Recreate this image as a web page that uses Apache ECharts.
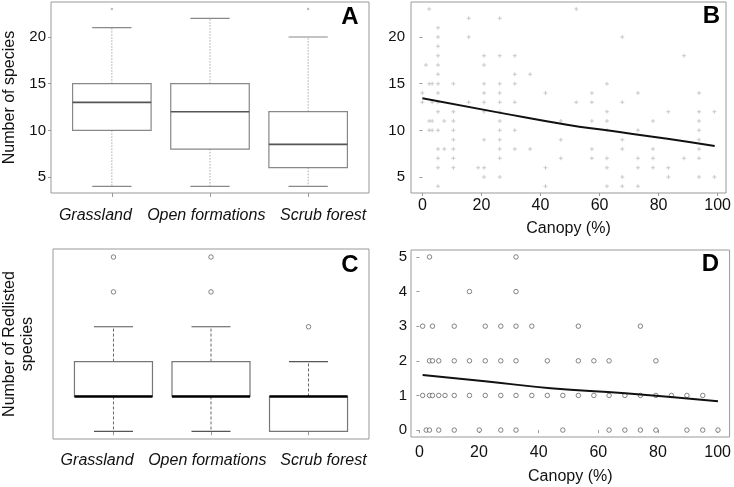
<!DOCTYPE html>
<html>
<head>
<meta charset="utf-8">
<script src="https://cdn.jsdelivr.net/npm/echarts@6/dist/echarts.min.js"></script>
<style>html,body{margin:0;padding:0;background:#fff}#c{width:734px;height:487px}</style>
</head>
<body>
<div id="c"></div>
<script>
// ---------- data ----------
const habitats = ['Grassland', 'Open formations', 'Scrub forest'];
const habitatPos = [1, 2, 3];
// Panel A: number of species (boxplot stats)
const spMin = [4, 4, 4];
const spQ1 = [10, 8, 6];
const spMed = [13, 12, 8.5];
const spQ3 = [15, 15, 12];
const spMax = [21, 22, 20];
const spOutliers = [[1, 23], [3, 23]];
// Panel C: number of redlisted species (boxplot stats)
const rlMin = [0, 0, 0];
const rlQ1 = [1, 1, 0];
const rlMed = [1, 1, 1];
const rlQ3 = [2, 2, 1];
const rlMax = [3, 3, 2];
const rlOutliers = [[1, 4], [1, 5], [2, 4], [2, 5], [3, 3]];
// Panel B: canopy (%) vs number of species
const pointsB = [
  [2.3,23],[52.1,23],
  [15.7,22],[26.2,22],
  [5.3,21],
  [5.3,20],[15.7,20],[67.7,20],
  [5.3,19],
  [5.3,18],[20.9,18],[26.2,18],[31.3,18],[88.6,18],
  [1.2,17],[5.3,17],[20.9,17],
  [5.3,16],[31.3,16],[36.5,16],
  [2.3,15],[3.3,15],[5.3,15],[10.5,15],[20.9,15],[26.2,15],[31.3,15],[62.5,15],
  [0,14],[5.3,14],[20.9,14],[26.2,14],[41.7,14],[57.4,14],[73,14],[93.7,14],
  [0,13],[3.3,13],[5.3,13],[15.7,13],[20.9,13],[26.2,13],[31.3,13],[52.1,13],[57.4,13],[67.7,13],
  [5.3,12],[10.5,12],[20.9,12],[26.2,12],[62.5,12],[83.3,12],[93.7,12],[98.9,12],
  [2.3,11],[3.3,11],[7.4,11],[10.5,11],[26.2,11],[46.9,11],[57.4,11],[62.5,11],[78.1,11],[93.7,11],
  [2.3,10],[3.3,10],[5.3,10],[10.5,10],[26.2,10],[31.3,10],[62.5,10],[73,10],[93.7,10],
  [10.5,9],[20.9,9],[26.2,9],[46.9,9],[67.7,9],[93.7,9],
  [5.3,8],[7.4,8],[10.5,8],[26.2,8],[31.3,8],[36.5,8],[57.4,8],[67.7,8],[78.1,8],[93.7,8],
  [5.3,7],[10.5,7],[26.2,7],[46.9,7],[57.4,7],[62.5,7],[73,7],[78.1,7],[88.6,7],[93.7,7],
  [5.3,6],[10.5,6],[18.9,6],[20.9,6],[41.7,6],[62.5,6],[73,6],[78.1,6],[83.3,6],
  [20.9,5],[26.2,5],[67.7,5],[83.3,5],[93.7,5],[98.9,5],
  [5.3,4],[41.7,4],[62.5,4],[67.7,4],[73,4]
];
const fitB = [[0,13.43],[26,11.9],[49,10.6],[62.5,10.0],[83,9.1],[99,8.32]];
// Panel D: canopy (%) vs number of redlisted species
const pointsD = [
  [3.4,5],[32.4,5],
  [16.8,4],[32.4,4],
  [1.1,3],[4.4,3],[11.7,3],[22.1,3],[27.3,3],[32.4,3],[37.7,3],[53.3,3],[74.1,3],
  [3.4,2],[4.4,2],[6.5,2],[11.7,2],[16.8,2],[22.1,2],[27.3,2],[32.4,2],[42.9,2],[53.3,2],[58.5,2],[63.6,2],[79.3,2],
  [1.1,1],[3.4,1],[4.4,1],[6.5,1],[8.6,1],[11.7,1],[16.8,1],[22.1,1],[27.3,1],[32.4,1],[37.7,1],[42.9,1],[48.1,1],[53.3,1],[58.5,1],[63.6,1],[68.9,1],[74.1,1],[79.3,1],[84.5,1],[89.7,1],[95,1],
  [2.3,0],[3.4,0],[6.5,0],[11.7,0],[20.1,0],[27.3,0],[32.4,0],[48.1,0],[63.6,0],[68.9,0],[74.1,0],[79.3,0],[89.7,0],[95,0],[100.1,0]
];
const fitD = [[1.1,1.59],[22,1.41],[44,1.21],[69,1.06],[100.1,0.83]];
const canopyTicks = [0, 20, 40, 60, 80, 100];
const speciesTicks = [5, 10, 15, 20];
const redTicks = [0, 1, 2, 3, 4, 5];
// where the category names sit along the x axis (they are spread a little wider than the boxes)
const habitatLabelPos = [0.832, 1.962, 3.153];

// ---------- helpers ----------
const FONT = 'Liberation Sans, Arial, sans-serif';
const TXT = '#111';
const FRAME = '#999';
function boxData(mn, q1, md, q3, mx) {
  return habitatPos.map((p, i) => [p, mn[i], q1[i], md[i], q3[i], mx[i]]);
}
function boxRenderer(st) {
  return function (params, api) {
    const x = api.value(0), lo = api.value(1), q1 = api.value(2), md = api.value(3), q3 = api.value(4), hi = api.value(5);
    const hb = 0.4, hc = 0.2;
    const tl = api.coord([x - hb, q3]), br = api.coord([x + hb, q1]);
    const c = (a, b) => api.coord([a, b]);
    const line = (p1, p2, style) => ({ type: 'line', shape: { x1: p1[0], y1: p1[1], x2: p2[0], y2: p2[1] }, style: style });
    const wStyle = { stroke: st.whisker, lineWidth: 1, lineDash: st.dash };
    const cStyle = { stroke: st.cap, lineWidth: 1.2 };
    return {
      type: 'group',
      children: [
        line(c(x, q3), c(x, hi), wStyle),
        line(c(x, q1), c(x, lo), wStyle),
        line(c(x - hc, hi), c(x + hc, hi), cStyle),
        line(c(x - hc, lo), c(x + hc, lo), cStyle),
        { type: 'rect', shape: { x: tl[0], y: tl[1], width: br[0] - tl[0], height: br[1] - tl[1] }, style: { fill: '#fff', stroke: st.box, lineWidth: 1.2 } },
        line(c(x - hb, md), c(x + hb, md), { stroke: st.median, lineWidth: st.medianWidth })
      ]
    };
  };
}
function catAxis(gridIndex, margin) {
  return {
    type: 'value', gridIndex: gridIndex, min: 0.38, max: 3.62,
    axisLine: { show: false },
    splitLine: { show: false },
    axisTick: { show: true, length: 4, lineStyle: { color: FRAME }, customValues: habitatPos },
    axisLabel: {
      customValues: habitatLabelPos, margin: margin, hideOverlap: false, showMinLabel: true, showMaxLabel: true,
      formatter: function (v) {
        let best = 0;
        habitatLabelPos.forEach((p, i) => { if (Math.abs(p - v) < Math.abs(habitatLabelPos[best] - v)) best = i; });
        return habitats[best];
      },
      fontFamily: FONT, fontSize: 16, fontStyle: 'italic', color: TXT
    }
  };
}
function canopyAxis(gridIndex, mn, mx, margin, nameGap) {
  return {
    type: 'value', gridIndex: gridIndex, min: mn, max: mx,
    name: 'Canopy (%)', nameLocation: 'middle', nameGap: nameGap,
    nameTextStyle: { fontFamily: FONT, fontSize: 16, color: TXT },
    axisLine: { show: false }, splitLine: { show: false },
    axisTick: { show: true, length: 3, lineStyle: { color: FRAME }, customValues: canopyTicks },
    axisLabel: { customValues: canopyTicks, margin: margin, hideOverlap: false, fontFamily: FONT, fontSize: 16, color: TXT }
  };
}
function countAxis(gridIndex, mn, mx, ticks, margin, showLabels, name, nameGap) {
  return {
    type: 'value', gridIndex: gridIndex, min: mn, max: mx,
    name: name, nameLocation: 'middle', nameGap: nameGap,
    nameTextStyle: { fontFamily: FONT, fontSize: 16, color: TXT, lineHeight: 18 },
    axisLine: { show: false }, splitLine: { show: false },
    axisTick: { show: showLabels, length: 3, lineStyle: { color: FRAME }, customValues: ticks },
    axisLabel: { show: showLabels, customValues: ticks, margin: margin, hideOverlap: false, fontFamily: FONT, fontSize: 15, color: TXT }
  };
}
const gridBase = { show: true, borderColor: FRAME, borderWidth: 1, backgroundColor: 'transparent' };
const plusSymbol = 'path://M-0.5,-2H0.5V-0.5H2V0.5H0.5V2H-0.5V0.5H-2V-0.5H-0.5Z';
const circleStyle = { color: '#fff', borderColor: '#555', borderWidth: 0.9 };

const chart = echarts.init(document.getElementById('c'), null, { renderer: 'canvas' });
chart.setOption({
  animation: false,
  backgroundColor: '#fff',
  grid: [
    Object.assign({ left: 50, top: 2, width: 319, height: 191 }, gridBase),
    Object.assign({ left: 411, top: 2, width: 319, height: 191 }, gridBase),
    Object.assign({ left: 50, top: 249, width: 319, height: 190 }, gridBase),
    Object.assign({ left: 411, top: 250, width: 319, height: 187 }, gridBase)
  ],
  xAxis: [
    catAxis(0, 15),
    canopyAxis(1, -3.85, 102.84, 5, 28),
    catAxis(2, 14),
    canopyAxis(3, -2.8, 104, 8, 32)
  ],
  yAxis: [
    countAxis(0, 3.29, 23.75, speciesTicks, 5, true, 'Number of species', 32),
    countAxis(1, 3.29, 23.75, speciesTicks, 6, true, '', 0),
    countAxis(2, -0.22, 5.23, redTicks, 5, false, 'Number of Redlisted\nspecies', 16),
    countAxis(3, -0.2, 5.2, redTicks, 4, true, '', 0)
  ],
  series: [
    { type: 'custom', xAxisIndex: 0, yAxisIndex: 0, renderItem: boxRenderer({ whisker: '#aaa', dash: [1.5, 1.5], cap: '#888', box: '#888', median: '#555', medianWidth: 1.6 }),
      data: boxData(spMin, spQ1, spMed, spQ3, spMax), encode: { x: 0, y: [1, 2, 3, 4, 5] } },
    { type: 'scatter', xAxisIndex: 0, yAxisIndex: 0, symbol: 'circle', symbolSize: 2.5, itemStyle: { color: '#aaa' }, data: spOutliers },
    { type: 'scatter', xAxisIndex: 1, yAxisIndex: 1, symbol: plusSymbol, symbolSize: 4, itemStyle: { color: '#bbb' }, data: pointsB },
    { type: 'line', xAxisIndex: 1, yAxisIndex: 1, smooth: true, showSymbol: false, lineStyle: { color: '#111', width: 2 }, data: fitB },
    { type: 'custom', xAxisIndex: 2, yAxisIndex: 2, renderItem: boxRenderer({ whisker: '#666', dash: [3, 2], cap: '#555', box: '#777', median: '#000', medianWidth: 2.5 }),
      data: boxData(rlMin, rlQ1, rlMed, rlQ3, rlMax), encode: { x: 0, y: [1, 2, 3, 4, 5] } },
    { type: 'scatter', xAxisIndex: 2, yAxisIndex: 2, symbol: 'circle', symbolSize: 4.5, itemStyle: circleStyle, data: rlOutliers },
    { type: 'scatter', xAxisIndex: 3, yAxisIndex: 3, symbol: 'circle', symbolSize: 4.5, itemStyle: circleStyle, data: pointsD },
    { type: 'line', xAxisIndex: 3, yAxisIndex: 3, smooth: true, showSymbol: false, lineStyle: { color: '#111', width: 2 }, data: fitD, z: 3 }
  ],
  graphic: [
    { type: 'text', x: 350, y: 17, style: { text: 'A', font: 'bold 24px ' + FONT, fill: '#000', align: 'center', verticalAlign: 'middle' } },
    { type: 'text', x: 711.5, y: 16, style: { text: 'B', font: 'bold 24px ' + FONT, fill: '#000', align: 'center', verticalAlign: 'middle' } },
    { type: 'text', x: 350, y: 265, style: { text: 'C', font: 'bold 24px ' + FONT, fill: '#000', align: 'center', verticalAlign: 'middle' } },
    { type: 'text', x: 710.5, y: 264, style: { text: 'D', font: 'bold 24px ' + FONT, fill: '#000', align: 'center', verticalAlign: 'middle' } }
  ]
});
</script>
</body>
</html>
